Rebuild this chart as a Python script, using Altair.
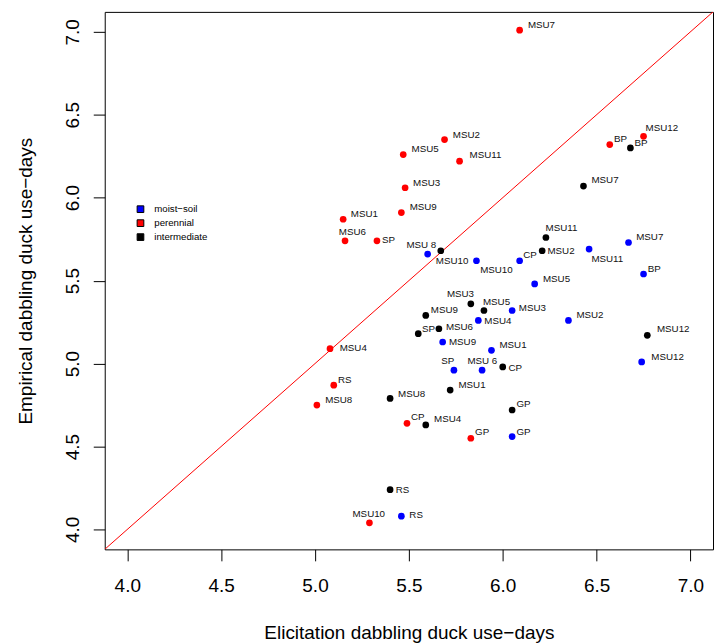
import altair as alt
import pandas as pd

# ---- data ----
types = ["moist\u2212soil", "perennial", "intermediate"]
type_colors = ["#0000FF", "#FF0000", "#000000"]

ms_labels = ["MSU 8", "MSU10", "CP", "MSU11", "MSU7", "BP", "MSU5", "MSU3", "MSU4",
             "MSU2", "MSU9", "MSU1", "SP", "MSU 6", "GP", "MSU12", "RS"]
ms_x = [5.60, 5.86, 6.09, 6.46, 6.67, 6.75, 6.17, 6.05, 5.87, 6.35, 5.68, 5.94,
        5.74, 5.89, 6.05, 6.74, 5.46]
ms_y = [5.66, 5.62, 5.62, 5.69, 5.73, 5.54, 5.48, 5.32, 5.26, 5.26, 5.13, 5.08,
        4.96, 4.96, 4.56, 5.01, 4.08]

per_labels = ["MSU7", "MSU2", "MSU5", "MSU11", "MSU3", "MSU9", "MSU1", "MSU6", "SP",
              "BP", "MSU12", "MSU4", "RS", "MSU8", "CP", "MSU10", "GP"]
per_x = [6.09, 5.69, 5.47, 5.77, 5.48, 5.46, 5.15, 5.16, 5.33, 6.57, 6.75, 5.08,
         5.10, 5.01, 5.49, 5.29, 5.83]
per_y = [7.01, 6.35, 6.26, 6.22, 6.06, 5.91, 5.87, 5.74, 5.74, 6.32, 6.37, 5.09,
         4.87, 4.75, 4.64, 4.04, 4.55]

int_labels = ["BP", "MSU7", "MSU11", "MSU2", "MSU10", "MSU3", "MSU5", "MSU9", "MSU6",
              "SP", "CP", "MSU1", "MSU8", "GP", "MSU4", "RS", "MSU12"]
int_x = [6.68, 6.43, 6.23, 6.21, 5.67, 5.83, 5.90, 5.59, 5.66, 5.55, 6.00, 5.72,
         5.40, 6.05, 5.59, 5.40, 6.77]
int_y = [6.30, 6.07, 5.76, 5.68, 5.68, 5.36, 5.32, 5.29, 5.21, 5.18, 4.98, 4.84,
         4.79, 4.72, 4.63, 4.24, 5.17]

# label placement (pixel offsets of the label's left edge / vertical centre)
ms_dx = [-21.3, 3.7, 3.7, 2.3, 7.7, 4.3, 8.3, 6.7, 6, 8, 6.3, 8, -12.7, -14.7, 4.3, 9.7, 8]
ms_dy = [-9.3, 9, -6, 9.7, -5.3, -5, -5, -2.3, 1, -5.7, 0, -5.3, -9.7, -9.7, -5, -5, -0.7]
per_dx = [8.3, 8.3, 8.3, 10, 8, 8.3, 7.7, -6.3, 5, 4.3, 2, 9.7, 4.3, 8.3, 4, -17, 4.3]
per_dy = [-5.3, -4.7, -5.3, -5.7, -5, -5.3, -5, -9, -0.7, -5.3, -8.3, -1, -5.3, -5.3, -6.7, -8.7, -6]
int_dx = [4, 8, -0.3, 5.3, -5, -24, -1, 5, 7, 3.7, 5.7, 8.3, 8, 4.3, 8.3, 5.7, 9.7]
int_dy = [-5.3, -6, -9.3, 0, 10, -9.7, -9, -5, -2, -4.7, 0.7, -5.3, -4.7, -5.7, -5.7, 0, -6]

axis_limits = [3.88, 7.12]
tick_values = [4.0, 4.5, 5.0, 5.5, 6.0, 6.5, 7.0]

# ---- layout ----
W, H = 610, 539
FONT = "Liberation Sans"
ux = (axis_limits[1] - axis_limits[0]) / W
uy = (axis_limits[1] - axis_limits[0]) / H

frames = []
for t, lab, xs, ys, dxs, dys in [
    (types[0], ms_labels, ms_x, ms_y, ms_dx, ms_dy),
    (types[1], per_labels, per_x, per_y, per_dx, per_dy),
    (types[2], int_labels, int_x, int_y, int_dx, int_dy),
]:
    d = pd.DataFrame({"label": lab, "x": xs, "y": ys, "dx": dxs, "dy": dys})
    d["type"] = t
    frames.append(d)
df = pd.concat(frames, ignore_index=True)
df["lx"] = df["x"] + df["dx"] * ux
df["ly"] = df["y"] - df["dy"] * uy

xscale = alt.Scale(domain=axis_limits, nice=False, zero=False)
yscale = alt.Scale(domain=axis_limits, nice=False, zero=False)

xaxis = alt.Axis(values=tick_values, format=".1f",
                 title="Elicitation dabbling duck use\u2212days",
                 grid=False, domain=False, tickColor="black", tickSize=11.5, tickWidth=1,
                 labelFontSize=19, labelFont=FONT, labelColor="black",
                 labelBaseline="alphabetic", labelPadding=30.8, labelFlush=False,
                 titleFontSize=19, titleFont=FONT, titleFontWeight="normal",
                 titleColor="black", titleX=W / 2, titleY=89.3,
                 titleBaseline="alphabetic", titleAlign="center")
yaxis = alt.Axis(values=tick_values, format=".1f",
                 title="Empirical dabbling duck use\u2212days",
                 grid=False, domain=False, tickColor="black", tickSize=11.5, tickWidth=1,
                 labelFontSize=19, labelFont=FONT, labelColor="black",
                 labelAngle=270, labelAlign="center", labelBaseline="alphabetic",
                 labelPadding=14.9, labelFlush=False,
                 titleFontSize=19, titleFont=FONT, titleFontWeight="normal",
                 titleColor="black", titleX=-73, titleY=H / 2, titleAngle=270,
                 titleBaseline="alphabetic", titleAlign="center")

line = alt.Chart(pd.DataFrame({"a": axis_limits})).mark_line(
    color="#FF0000", strokeWidth=1, clip=True
).encode(
    x=alt.X("a:Q", scale=xscale, axis=xaxis),
    y=alt.Y("a:Q", scale=yscale, axis=yaxis),
)

points = alt.Chart(df).mark_circle(size=45, opacity=1).encode(
    x=alt.X("x:Q", scale=xscale, axis=xaxis),
    y=alt.Y("y:Q", scale=yscale, axis=yaxis),
    color=alt.Color(
        "type:N",
        scale=alt.Scale(domain=types, range=type_colors),
        legend=alt.Legend(
            orient="none", legendX=31, legendY=193, title=None,
            symbolType="square", symbolSize=45, symbolStrokeColor="black",
            symbolStrokeWidth=1, symbolOpacity=1,
            labelFontSize=9.7, labelFont=FONT, labelColor="black",
            labelOffset=9, rowPadding=2, padding=0,
        ),
    ),
)

texts = alt.Chart(df).mark_text(
    align="left", baseline="middle", fontSize=9.8, font=FONT, color="#111111"
).encode(
    x=alt.X("lx:Q", scale=xscale, axis=xaxis),
    y=alt.Y("ly:Q", scale=yscale, axis=yaxis),
    text="label:N",
)

chart = alt.layer(line, points, texts).properties(
    width=W, height=H,
    padding={"left": 97, "top": 3, "right": 2, "bottom": 94},
    autosize=alt.AutoSizeParams(type="none"),
).configure_view(stroke="black", strokeWidth=1)

chart.save("out.html", embed_options={"renderer": "svg", "actions": False})
